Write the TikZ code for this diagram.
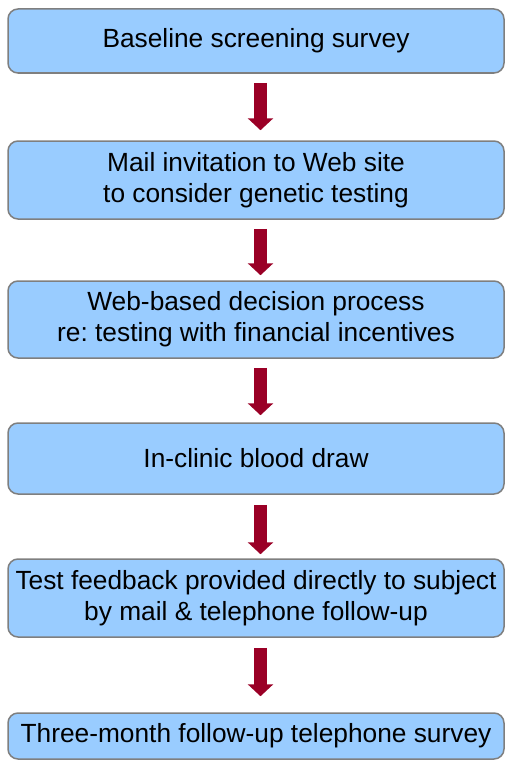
\documentclass[tikz,border=0pt]{standalone}
\usepackage{fontspec}
\setmainfont{Liberation Sans}
\frenchspacing
\usetikzlibrary{arrows.meta, positioning}
\definecolor{BoxBlue}{HTML}{99CCFF}
\definecolor{BoxEdge}{HTML}{7F7F7F}
\definecolor{FlowRed}{HTML}{9A0026}

\begin{document}
\begin{tikzpicture}[x=1pt, y=-1pt,
    stage/.style={draw=BoxEdge, line width=1.5pt, fill=BoxBlue, rounded corners=10pt,
      minimum width=496pt, inner sep=0pt, align=center,
      font=\fontsize{26.3}{31}\selectfont},
    flow/.style={draw=FlowRed, line width=13pt, -{Triangle[length=12pt, width=25pt]}}]
    \useasboundingbox (0,0) rectangle (505,760);

    % Stages of the study, top to bottom
    \node[stage, minimum height=64pt] (screen) at (256,41) {Baseline screening survey};
    \node[stage, minimum height=78pt] (invite) at (256,180) {Mail invitation to Web site\\to consider genetic testing};
    \node[stage, minimum height=77pt] (decide) at (256,319.5) {Web-based decision process\\re: testing with financial incentives};
    \node[stage, minimum height=71pt] (blood) at (256,458.5) {In-clinic blood draw};
    \node[stage, minimum height=78pt] (feedback) at (256,598) {Test feedback provided directly to subject\\by mail \& telephone follow-up};
    \node[stage, minimum height=46pt] (followup) at (256,736) {Three-month follow-up telephone survey};

    % Arrows between stages
    \draw[flow, shorten <=9pt, shorten >=10pt] ([xshift=4.5pt]screen.south) -- ([xshift=4.5pt]invite.north);
    \draw[flow, shorten <=9pt, shorten >=5pt] ([xshift=4.5pt]invite.south) -- ([xshift=4.5pt]decide.north);
    \draw[flow, shorten <=9pt, shorten >=7pt] ([xshift=4.5pt]decide.south) -- ([xshift=4.5pt]blood.north);
    \draw[flow, shorten <=10pt, shorten >=4pt] ([xshift=4.5pt]blood.south) -- ([xshift=4.5pt]feedback.north);
    \draw[flow, shorten <=10pt, shorten >=16pt] ([xshift=4.5pt]feedback.south) -- ([xshift=4.5pt]followup.north);
\end{tikzpicture}
\end{document}
